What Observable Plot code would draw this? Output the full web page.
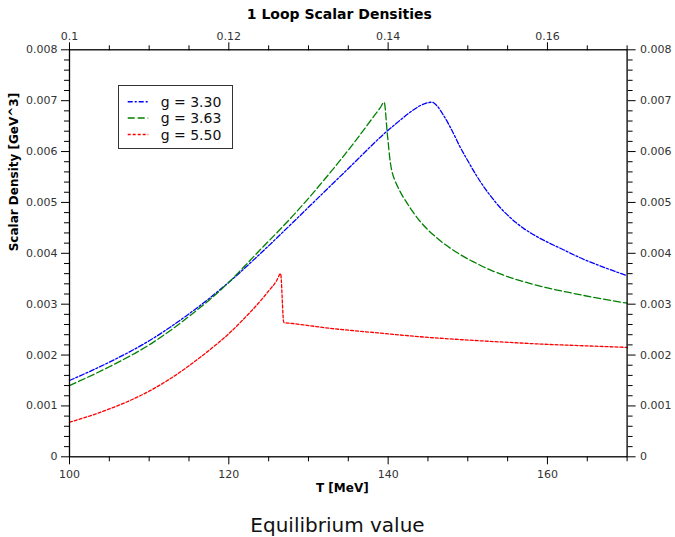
<!DOCTYPE html>
<html><head><meta charset="utf-8">
<script src="https://cdn.jsdelivr.net/npm/d3@7"></script>
<script src="https://cdn.jsdelivr.net/npm/@observablehq/plot@0.6"></script>
<style>
body{margin:0;background:#fff;font-family:"DejaVu Sans",sans-serif;}
#wrap{position:relative;width:675px;height:537px;overflow:hidden;}
#legend{position:absolute;left:118px;top:85px;width:113px;height:62px;border:1px solid #333;background:#fff;}
#caption{position:absolute;left:0;width:675px;top:513px;line-height:24px;text-align:center;font-size:20px;color:#111;}
</style></head>
<body><div id="wrap"></div>
<script>
const title = "1 Loop Scalar Densities";
const xAxisLabel = "T [MeV]";
const yAxisLabel = "Scalar Density [GeV^3]";
const captionText = "Equilibrium value";

const seriesNames = ["g = 3.30", "g = 3.63", "g = 5.50"];
const seriesColors = ["#0000ff", "#008000", "#ff0000"];
const seriesDash = ["5,2,2,2", "7,3", "3,2"];

const tBlue = [100,105,110,115,120,124,128,132,136,138,140,141,142,143,144,145,145.5,146,147,148,149,150,151,152,153,154,155,156,157,158,159,160,162,164,167,170];
const vBlue = [0.00150,0.00186,0.00228,0.00281,0.00343,0.00400,0.00460,0.00521,0.00582,0.00613,0.00642,0.00655,0.00668,0.00680,0.00690,0.00696,0.00697,0.00692,0.00670,0.00642,0.00610,0.00582,0.00555,0.00531,0.00510,0.00491,0.00475,0.00461,0.00449,0.00439,0.00430,0.00422,0.00407,0.00392,0.00373,0.00356];

const tGreen = [100,105,110,115,120,122,124,126,128,130,132,134,136,138,139,139.5,139.9,140.3,140.5,140.8,141.2,141.8,142.4,143,144,145,146,147,148,149,150,151,152,153,154,155,156,158,160,163,167,170];
const vGreen = [0.00140,0.00177,0.00220,0.00276,0.00343,0.00375,0.00408,0.00440,0.00473,0.00508,0.00545,0.00583,0.00623,0.00665,0.00686,0.00697,0.00635,0.00576,0.00560,0.00545,0.00531,0.00513,0.00498,0.00484,0.00463,0.00446,0.00432,0.00419,0.00408,0.00398,0.00389,0.00381,0.00373,0.00366,0.00360,0.00354,0.00349,0.00340,0.00332,0.00322,0.00310,0.00302];

const tRed = [100,102.5,105,107.5,110,112.5,115,117.5,120,122,124,125,126,126.5,126.9,128,130,133,136.3,139.1,144,149.5,155,160,165,170];
const vRed = [0.00068,0.00080,0.00094,0.00110,0.00129,0.00152,0.00179,0.00209,0.00242,0.00273,0.00307,0.00326,0.00346,0.00360,0.00264,0.00262,0.00258,0.00252,0.00247,0.00243,0.00236,0.00230,0.00225,0.00221,0.00218,0.00215];

const xMajor = [100,120,140,160];
const xLabels = ["100","120","140","160"];
const topLabels = ["0.1","0.12","0.14","0.16"];
const xMinor = [105,110,115,125,130,135,145,150,155,165,170];
const yMajor = [0,0.001,0.002,0.003,0.004,0.005,0.006,0.007,0.008];
const yLabels = ["0","0.001","0.002","0.003","0.004","0.005","0.006","0.007","0.008"];
const yMinor = d3.range(0, 41).map(i => i * 0.0002).filter(v => Math.round(v * 10000) % 10 !== 0);

const seriesT = [tBlue, tGreen, tRed];
const seriesV = [vBlue, vGreen, vRed];
const data = seriesNames.map((name, s) => seriesT[s].map((T, i) => ({name, T, v: seriesV[s][i]})));

const fmtX = d => xLabels[xMajor.indexOf(d)];
const fmtTop = d => topLabels[xMajor.indexOf(d)];
const fmtY = d => yLabels[yMajor.findIndex(v => Math.abs(v - d) < 1e-9)];

const axisStyle = {stroke: "#000", fill: "#333", label: null};

const chart = Plot.plot({
  width: 675, height: 505,
  marginLeft: 69, marginRight: 48.4, marginTop: 49.3, marginBottom: 48.7,
  x: {domain: [100, 170]},
  y: {domain: [0, 0.008]},
  style: {fontFamily: "DejaVu Sans", fontSize: "11px", background: "white", color: "#000"},
  marks: [
    ...data.map((d, s) => Plot.line(d, {x: "T", y: "v", stroke: seriesColors[s], strokeWidth: 1.3, strokeDasharray: seriesDash[s], curve: "monotone-x"})),
    Plot.axisX({...axisStyle, anchor: "bottom", ticks: xMajor, tickSize: 8, tickPadding: 5, tickFormat: fmtX}),
    Plot.axisX({...axisStyle, anchor: "bottom", ticks: xMinor, tickSize: 5, fill: "none"}),
    Plot.axisX({...axisStyle, anchor: "top", ticks: xMajor, tickSize: 8, tickPadding: 2, tickFormat: fmtTop}),
    Plot.axisX({...axisStyle, anchor: "top", ticks: xMinor, tickSize: 5, fill: "none"}),
    Plot.axisY({...axisStyle, anchor: "left", ticks: yMajor, tickSize: 8, tickPadding: 4, tickFormat: fmtY}),
    Plot.axisY({...axisStyle, anchor: "left", ticks: yMinor, tickSize: 5, fill: "none"}),
    Plot.axisY({...axisStyle, anchor: "right", ticks: yMajor, tickSize: 8, tickPadding: 5, tickFormat: fmtY}),
    Plot.axisY({...axisStyle, anchor: "right", ticks: yMinor, tickSize: 5, fill: "none"}),
    Plot.frame({stroke: "#000", strokeWidth: 1.3}),
    Plot.text([title], {frameAnchor: "top", dx: -9, dy: -35, fontWeight: "bold", fontSize: 14, fill: "#000", lineAnchor: "middle"}),
    Plot.text([xAxisLabel], {frameAnchor: "bottom", dx: -6, dy: 31, fontWeight: "bold", fontSize: 12, fill: "#000", lineAnchor: "middle"}),
    Plot.text([yAxisLabel], {frameAnchor: "left", dx: -55, dy: -2, rotate: -90, fontWeight: "bold", fontSize: 12, fill: "#000", lineAnchor: "middle"})
  ]
});

const wrap = document.getElementById("wrap");
wrap.appendChild(chart);

// legend
const legend = document.createElement("div");
legend.id = "legend";
const ns = "http://www.w3.org/2000/svg";
const lsvg = document.createElementNS(ns, "svg");
lsvg.setAttribute("width", 113); lsvg.setAttribute("height", 62);
seriesNames.forEach((name, s) => {
  const cy = 15.7 + s * 16.4;
  const ln = document.createElementNS(ns, "line");
  ln.setAttribute("x1", 8.7); ln.setAttribute("x2", 29.3);
  ln.setAttribute("y1", cy); ln.setAttribute("y2", cy);
  ln.setAttribute("stroke", seriesColors[s]);
  ln.setAttribute("stroke-width", 1.5);
  ln.setAttribute("stroke-dasharray", seriesDash[s]);
  lsvg.appendChild(ln);
  const tx = document.createElementNS(ns, "text");
  tx.setAttribute("x", 41.7); tx.setAttribute("y", cy + 5);
  tx.setAttribute("font-family", "DejaVu Sans");
  tx.setAttribute("font-size", 14);
  tx.setAttribute("fill", "#111");
  tx.textContent = name;
  lsvg.appendChild(tx);
});
legend.appendChild(lsvg);
wrap.appendChild(legend);

const cap = document.createElement("div");
cap.id = "caption";
cap.textContent = captionText;
wrap.appendChild(cap);
</script>
</body></html>
